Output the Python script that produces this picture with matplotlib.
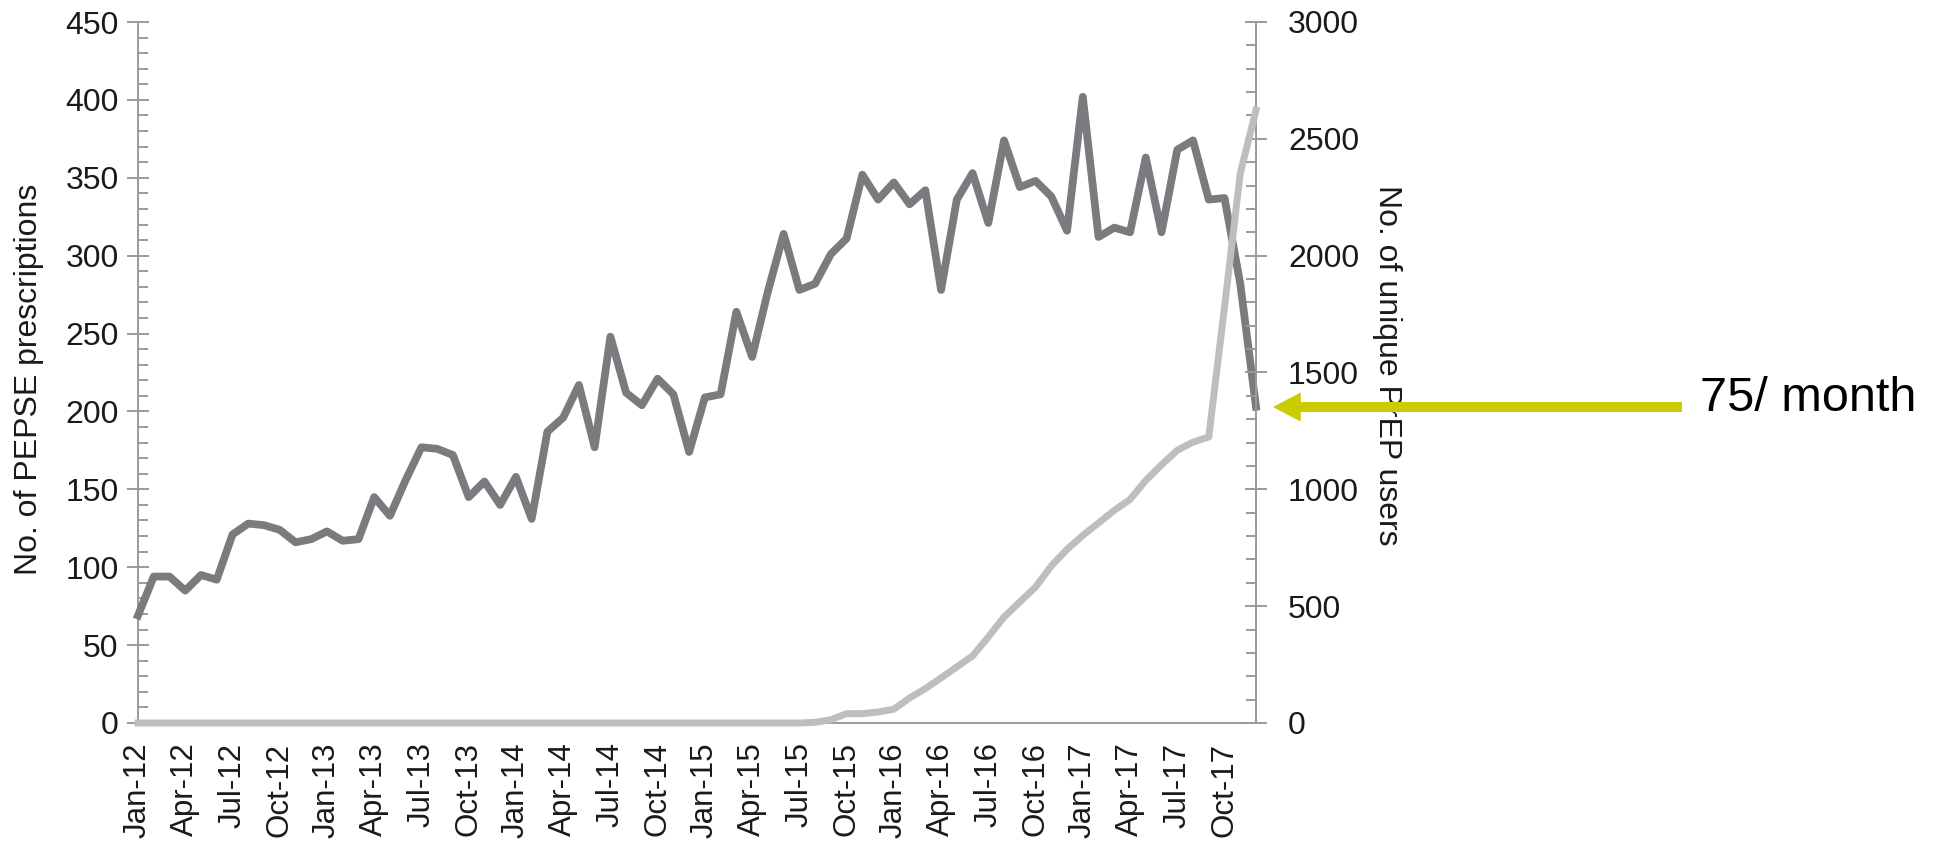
import matplotlib

matplotlib.use("Agg")
import matplotlib.pyplot as plt  # noqa: E402
import numpy as np  # noqa: E402

plt.rcParams["font.family"] = ["Liberation Sans", "DejaVu Sans"]

# monthly series, Jan-12 .. Dec-17
years = ["12", "13", "14", "15", "16", "17"]
months = ["Jan", "Feb", "Mar", "Apr", "May", "Jun",
          "Jul", "Aug", "Sep", "Oct", "Nov", "Dec"]
month_labels = [f"{m}-{y}" for y in years for m in months]

pepse_rx = [69, 94, 94, 85, 95, 92, 121, 128, 127, 124, 116, 118,
            123, 117, 118, 145, 133, 156, 177, 176, 172, 145, 155, 140,
            158, 131, 187, 196, 217, 177, 248, 212, 204, 221, 211, 174,
            209, 211, 264, 235, 277, 314, 278, 282, 301, 311, 352, 336,
            347, 333, 342, 278, 336, 353, 321, 374, 344, 348, 338, 316,
            402, 312, 318, 315, 363, 315, 368, 374, 336, 337, 282, 203]

prep_users = [0] * 42 + [0, 3, 14, 40, 40, 47, 59, 107, 147, 193, 240, 287,
                         368, 454, 518, 582, 672, 743, 803, 856, 910, 957, 1038, 1105,
                         1167, 1202, 1224, 1780, 2352, 2623]

left_label = "No. of PEPSE prescriptions"
right_label = "No. of unique PrEP users"
note = "75/ month"

dark = "#7a7b7f"
light = "#bdbec1"
axis_grey = "#9a9a9a"
arrow_col = "#c9cc00"
txt = "#1a1a1a"

W, H = 1939, 843
fig = plt.figure(figsize=(W / 100, H / 100), dpi=100)
ax = fig.add_axes([138 / W, 1 - 723 / H, (1256 - 138) / W, (723 - 22) / H])
ax2 = ax.twinx()

x = np.arange(len(month_labels))
ax.plot(x, pepse_rx, color=dark, lw=5.6, clip_on=False, zorder=3)
ax2.plot(x, prep_users, color=light, lw=5.0, clip_on=False, zorder=3)

ax.set_xlim(0, len(month_labels) - 1)
ax.set_ylim(0, 450)
ax2.set_ylim(0, 3000)

ax.set_xticks(x[::3])
ax.set_xticklabels(month_labels[::3], rotation=90, fontsize=22.5, color=txt)
ax.tick_params(axis="x", length=0, pad=14)

ax.set_yticks(np.arange(0, 451, 50))
ax.set_yticks(np.arange(0, 451, 10), minor=True)
ax2.set_yticks(np.arange(0, 3001, 500))
ax2.set_yticks(np.arange(0, 3001, 100), minor=True)
ax.tick_params(axis="y", which="major", direction="inout", length=16, width=1.4,
               color=axis_grey, labelsize=23, labelcolor=txt, pad=6)
ax.tick_params(axis="y", which="minor", direction="in", length=7, width=1.4, color=axis_grey)
ax2.tick_params(axis="y", which="major", direction="inout", length=16, width=1.4,
                color=axis_grey, labelsize=23, labelcolor=txt, pad=15)
ax2.tick_params(axis="y", which="minor", direction="in", length=7, width=1.4, color=axis_grey)

for s in ["top", "right"]:
    ax.spines[s].set_visible(False)
for s in ["top", "left", "bottom"]:
    ax2.spines[s].set_visible(False)
ax.spines["left"].set_color(axis_grey)
ax.spines["left"].set_linewidth(1.4)
ax.spines["bottom"].set_color(axis_grey)
ax.spines["bottom"].set_linewidth(1.4)
ax2.spines["right"].set_color(axis_grey)
ax2.spines["right"].set_linewidth(1.4)

ax.set_ylabel(left_label, fontsize=23, color=txt)
ax.yaxis.set_label_coords(-0.084, 0.49)
ax2.set_ylabel(right_label, fontsize=23, color=txt, rotation=270, va="bottom")
ax2.yaxis.set_label_coords(1.104, 0.51)

# arrow pointing at the last month, drawn over the right axis label
ax2.annotate("", xy=(1273 / W, 1 - 407 / H), xytext=(1682 / W, 1 - 407 / H),
             xycoords="figure fraction", textcoords="figure fraction",
             arrowprops=dict(facecolor=arrow_col, edgecolor="none", width=7.2,
                             headwidth=21, headlength=20, shrink=0),
             annotation_clip=False, zorder=10)
fig.text(1700 / W, 1 - 411 / H, note, fontsize=35, color="black", va="baseline", ha="left")

fig.savefig("out.png", dpi=100)
plt.close(fig)
